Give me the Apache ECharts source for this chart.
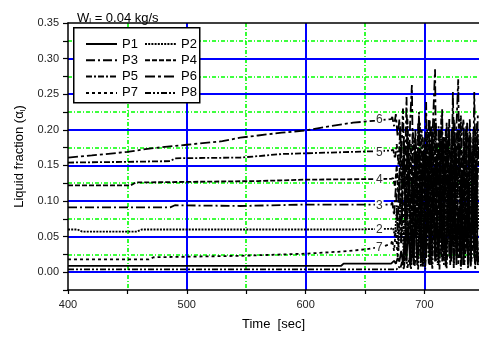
<!DOCTYPE html>
<html>
<head>
<meta charset="utf-8">
<script src="https://cdn.jsdelivr.net/npm/echarts@6.0.0/dist/echarts.min.js"></script>
<style>
html,body{margin:0;padding:0;background:#fff;}
#chart{width:479px;height:343px;}
</style>
</head>
<body>
<div id="chart"></div>
<script>
// ---- Data ----
const seriesNames = ['P1','P2','P3','P4','P5','P6','P7','P8'];

// steady part (time, value)
const p1T = [400, 630, 632, 672];
const p1V = [0.009, 0.009, 0.012, 0.012];
const p2T = [400, 408, 412, 458, 462, 640, 672];
const p2V = [0.060, 0.060, 0.057, 0.057, 0.060, 0.060, 0.061];
const p3T = [400, 486, 490, 545, 600, 672];
const p3V = [0.091, 0.091, 0.094, 0.093, 0.095, 0.095];
const p4T = [400, 453, 457, 560, 600, 672];
const p4V = [0.122, 0.122, 0.126, 0.128, 0.130, 0.131];
const p5T = [400, 450, 486, 490, 545, 560, 580, 600, 620, 640, 660, 672];
const p5V = [0.154, 0.155, 0.156, 0.160, 0.161, 0.163, 0.166, 0.167, 0.168, 0.169, 0.170, 0.171];
const p6T = [400, 420, 450, 470, 500, 530, 545, 560, 580, 600, 620, 640, 660, 672];
const p6V = [0.161, 0.164, 0.169, 0.174, 0.179, 0.184, 0.189, 0.192, 0.196, 0.199, 0.205, 0.210, 0.213, 0.215];
const p7T = [400, 468, 472, 545, 600, 630, 650, 665, 672];
const p7V = [0.018, 0.018, 0.021, 0.023, 0.026, 0.029, 0.032, 0.036, 0.040];
const p8T = [400, 672];
const p8V = [0.004, 0.004];

// oscillating part: two interleaved time grids
const chaosTa = [
 673, 674.5, 676, 677.5, 679, 680.5, 682, 683.5, 685, 686.5,
 688, 689.5, 691, 692.5, 694, 695.5, 697, 698.5, 700, 701.5,
 703, 704.5, 706, 707.5, 709, 710.5, 712, 713.5, 715, 716.5,
 718, 719.5, 721, 722.5, 724, 725.5, 727, 728.5, 730, 731.5,
 733, 734.5, 736, 737.5, 739, 740.5, 742, 743.5, 745];
const chaosTb = [
 673.75, 675.25, 676.75, 678.25, 679.75, 681.25, 682.75, 684.25, 685.75, 687.25,
 688.75, 690.25, 691.75, 693.25, 694.75, 696.25, 697.75, 699.25, 700.75, 702.25,
 703.75, 705.25, 706.75, 708.25, 709.75, 711.25, 712.75, 714.25, 715.75, 717.25,
 718.75, 720.25, 721.75, 723.25, 724.75, 726.25, 727.75, 729.25, 730.75, 732.25,
 733.75, 735.25, 736.75, 738.25, 739.75, 741.25, 742.75, 744.25, 745.75];
const p1C = [
 0.014, 0.016, 0.012, 0.020, 0.015, 0.030, 0.012, 0.050, 0.015, 0.070,
 0.010, 0.060, 0.020, 0.090, 0.010, 0.050, 0.110, 0.008, 0.080, 0.020,
 0.120, 0.010, 0.060, 0.140, 0.015, 0.090, 0.010, 0.130, 0.030, 0.100,
 0.008, 0.070, 0.150, 0.015, 0.060, 0.120, 0.010, 0.090, 0.020, 0.140,
 0.010, 0.080, 0.030, 0.120, 0.008, 0.100, 0.020, 0.150, 0.010];
const p2C = [
 0.062, 0.050, 0.090, 0.030, 0.110, 0.070, 0.020, 0.130, 0.060, 0.150,
 0.010, 0.120, 0.080, 0.170, 0.020, 0.100, 0.150, 0.008, 0.180, 0.060,
 0.130, 0.020, 0.190, 0.050, 0.160, 0.010, 0.140, 0.090, 0.185, 0.020,
 0.120, 0.170, 0.040, 0.200, 0.010, 0.150, 0.070, 0.180, 0.020, 0.130,
 0.060, 0.190, 0.010, 0.160, 0.080, 0.200, 0.030, 0.140, 0.060];
const p3C = [
 0.098, 0.080, 0.120, 0.060, 0.140, 0.040, 0.160, 0.090, 0.030, 0.180,
 0.060, 0.150, 0.010, 0.170, 0.100, 0.200, 0.020, 0.140, 0.190, 0.050,
 0.160, 0.010, 0.205, 0.120, 0.030, 0.180, 0.080, 0.200, 0.015, 0.150,
 0.110, 0.190, 0.020, 0.170, 0.060, 0.210, 0.030, 0.140, 0.180, 0.010,
 0.200, 0.100, 0.040, 0.190, 0.020, 0.160, 0.120, 0.015, 0.200];
const p4C = [
 0.132, 0.120, 0.150, 0.100, 0.170, 0.080, 0.185, 0.040, 0.200, 0.110,
 0.180, 0.020, 0.190, 0.130, 0.060, 0.210, 0.090, 0.170, 0.015, 0.200,
 0.120, 0.180, 0.030, 0.215, 0.080, 0.160, 0.200, 0.020, 0.190, 0.100,
 0.210, 0.060, 0.140, 0.200, 0.015, 0.180, 0.120, 0.215, 0.050, 0.170,
 0.100, 0.205, 0.020, 0.190, 0.150, 0.060, 0.200, 0.090, 0.180];
const p5C = [
 0.172, 0.160, 0.180, 0.150, 0.205, 0.120, 0.190, 0.070, 0.215, 0.140,
 0.050, 0.200, 0.160, 0.030, 0.210, 0.090, 0.200, 0.020, 0.180, 0.120,
 0.215, 0.040, 0.195, 0.100, 0.210, 0.150, 0.060, 0.220, 0.110, 0.190,
 0.030, 0.205, 0.170, 0.050, 0.215, 0.090, 0.200, 0.140, 0.220, 0.030,
 0.180, 0.200, 0.070, 0.215, 0.120, 0.190, 0.040, 0.210, 0.160];
const p6C = [
 0.218, 0.205, 0.222, 0.190, 0.215, 0.160, 0.230, 0.120, 0.246, 0.090,
 0.210, 0.263, 0.070, 0.200, 0.130, 0.225, 0.040, 0.190, 0.110, 0.239,
 0.060, 0.215, 0.150, 0.220, 0.285, 0.050, 0.205, 0.100, 0.229, 0.030,
 0.200, 0.140, 0.215, 0.070, 0.253, 0.120, 0.205, 0.271, 0.040, 0.195,
 0.215, 0.080, 0.210, 0.150, 0.190, 0.060, 0.253, 0.110, 0.220];
const p7C = [
 0.045, 0.030, 0.060, 0.020, 0.080, 0.040, 0.100, 0.015, 0.070, 0.120,
 0.030, 0.090, 0.010, 0.140, 0.050, 0.110, 0.008, 0.150, 0.030, 0.120,
 0.060, 0.170, 0.010, 0.100, 0.140, 0.020, 0.160, 0.050, 0.110, 0.010,
 0.180, 0.070, 0.130, 0.020, 0.150, 0.040, 0.170, 0.010, 0.120, 0.060,
 0.160, 0.020, 0.140, 0.090, 0.010, 0.170, 0.050, 0.130, 0.020];
const p8C = [
 0.004, 0.005, 0.004, 0.008, 0.005, 0.015, 0.004, 0.030, 0.006, 0.020,
 0.004, 0.045, 0.008, 0.030, 0.004, 0.060, 0.010, 0.040, 0.004, 0.070,
 0.012, 0.030, 0.005, 0.080, 0.015, 0.050, 0.004, 0.090, 0.020, 0.040,
 0.005, 0.070, 0.010, 0.100, 0.006, 0.050, 0.020, 0.080, 0.004, 0.060,
 0.010, 0.090, 0.005, 0.040, 0.015, 0.070, 0.004, 0.050, 0.010];

// curve labels (text, time, value)
const curveLabelText = ['6', '5', '4', '3', '2', '7'];
const curveLabelTime = [662, 662, 662, 662, 662, 662];
const curveLabelValue = [0.214, 0.168, 0.130, 0.093, 0.060, 0.035];
const curveLabelSeries = ['P6', 'P5', 'P4', 'P3', 'P2', 'P7'];

// axis ticks
const xTickLabels = [400, 500, 600, 700];
const yTickLabels = ['0.00', '0.05', '0.10', '0.15', '0.20', '0.25', '0.30', '0.35'];

// ---- build ----
function pairs(t, v, ct, cv) {
  const out = [];
  for (let i = 0; i < t.length; i++) out.push([t[i], v[i]]);
  for (let i = 0; i < ct.length; i++) out.push([ct[i], cv[i]]);
  return out;
}
const seriesData = {
  P1: pairs(p1T, p1V, chaosTa, p1C),
  P2: pairs(p2T, p2V, chaosTb, p2C),
  P3: pairs(p3T, p3V, chaosTa, p3C),
  P4: pairs(p4T, p4V, chaosTb, p4C),
  P5: pairs(p5T, p5V, chaosTb, p5C),
  P6: pairs(p6T, p6V, chaosTa, p6C),
  P7: pairs(p7T, p7V, chaosTa, p7C),
  P8: pairs(p8T, p8V, chaosTb, p8C)
};
const dashTypes = {
  P1: 'solid',
  P2: [2, 1.2],
  P3: [9, 3, 2, 3],
  P4: [5, 2],
  P5: [6, 2, 2, 2],
  P6: [10, 3, 3, 3],
  P7: [3, 3],
  P8: [6, 2, 2, 2, 2, 2]
};

const FONT = 'Liberation Sans, Arial, sans-serif';
const GREEN = '#00ff00';
const BLUE = '#0000ff';
const TRANS = 'rgba(0,0,0,0)';

const series = seriesNames.map(function (name) {
  const s = {
    name: name,
    type: 'line',
    xAxisIndex: 0,
    yAxisIndex: 0,
    data: seriesData[name],
    symbol: 'none',
    showSymbol: false,
    animation: false,
    color: '#000',
    lineStyle: { color: '#000', width: 1.8, type: dashTypes[name] },
    z: 3
  };
  const mp = [];
  curveLabelSeries.forEach(function (sn, i) {
    if (sn === name) {
      mp.push({
        coord: [curveLabelTime[i], curveLabelValue[i]],
        value: curveLabelText[i]
      });
    }
  });
  if (mp.length) {
    s.markPoint = {
      symbol: 'circle',
      symbolSize: 1,
      itemStyle: { color: TRANS },
      animation: false,
      label: {
        show: true, position: 'inside', color: '#333', fontSize: 12,
        fontFamily: FONT, backgroundColor: '#fff', padding: [0, 1],
        formatter: function (p) { return p.value; }
      },
      data: mp
    };
  }
  return s;
});

const yMin = -0.025, yMax = 0.35, yStep = 0.025;
const xMin = 400, xMax = 746, xStep = 50;

function yLabelFmt(v) {
  const s = v.toFixed(2);
  return yTickLabels.indexOf(s) >= 0 && Math.abs(Math.round(v * 1000) % 50) === 0 ? s : '';
}
function xLabelFmt(v) {
  return xTickLabels.indexOf(Math.round(v)) >= 0 && Math.abs(v - Math.round(v)) < 1e-6 ? String(Math.round(v)) : '';
}

const legendCommon = {
  orient: 'vertical', top: 32,
  itemWidth: 31, itemHeight: 4, itemGap: 2.3, z: 20,
  itemStyle: { opacity: 0 },
  textStyle: { fontFamily: FONT, fontSize: 13, color: '#000', lineHeight: 14 }
};

const chart = echarts.init(document.getElementById('chart'), null, { renderer: 'canvas' });
chart.setOption({
  animation: false,
  backgroundColor: '#fff',
  title: {
    text: 'W{s|l} = 0.04 kg/s',
    left: 72, top: 6,
    textStyle: {
      fontFamily: FONT, fontSize: 13, fontWeight: 'normal', color: '#000',
      rich: { s: { fontSize: 8, verticalAlign: 'bottom', padding: [6, 0, 0, 0], fontFamily: FONT, color: '#000' } }
    }
  },
  grid: { left: 68, right: 0, top: 23, bottom: 53, containLabel: false },
  xAxis: [
    {
      type: 'value', position: 'bottom', min: xMin, max: xMax, interval: xStep,
      name: 'Time  [sec]', nameLocation: 'middle', nameGap: 28,
      nameTextStyle: { fontFamily: FONT, fontSize: 13, color: '#000' },
      axisLine: { show: true, onZero: false, lineStyle: { color: '#000', width: 1.5 } },
      axisTick: { show: true, length: 4, lineStyle: { color: '#000', width: 1.2 } },
      axisLabel: { fontFamily: FONT, fontSize: 11, color: '#222', margin: 9, formatter: xLabelFmt, showMaxLabel: false },
      splitLine: { show: true, showMinLine: false, showMaxLine: false, lineStyle: { color: [TRANS, BLUE], width: 2, type: 'solid' } },
      z: 2
    },
    {
      type: 'value', position: 'bottom', min: xMin, max: xMax, interval: xStep,
      axisLine: { show: false }, axisTick: { show: false }, axisLabel: { show: false },
      splitLine: { show: true, showMinLine: false, showMaxLine: false, lineStyle: { color: [GREEN, TRANS], width: 1.6, type: [4, 2, 1, 2] } },
      z: 1
    },
    {
      type: 'value', position: 'top', min: xMin, max: xMax, interval: xStep,
      axisLine: { show: true, onZero: false, lineStyle: { color: '#000', width: 1.5 } },
      axisTick: { show: false }, axisLabel: { show: false }, splitLine: { show: false },
      z: 2
    }
  ],
  yAxis: [
    {
      type: 'value', position: 'left', min: yMin, max: yMax, interval: yStep,
      name: 'Liquid fraction (α{s|l})', nameLocation: 'middle', nameGap: 40, nameRotate: 90,
      nameTextStyle: {
        fontFamily: FONT, fontSize: 13, color: '#000',
        rich: { s: { fontSize: 8, fontFamily: FONT, color: '#000', verticalAlign: 'bottom', padding: [6, 0, 0, 0] } }
      },
      axisLine: { show: true, onZero: false, lineStyle: { color: '#000', width: 1.5 } },
      axisTick: { show: true, length: 5, lineStyle: { color: '#000', width: 1.2 } },
      axisLabel: { fontFamily: FONT, fontSize: 11, color: '#222', margin: 9, formatter: yLabelFmt },
      splitLine: { show: true, showMinLine: false, showMaxLine: false, lineStyle: { color: [BLUE, TRANS], width: 2, type: 'solid' } },
      z: 2
    },
    {
      type: 'value', position: 'right', min: yMin, max: yMax, interval: yStep,
      axisLine: { show: false }, axisTick: { show: false }, axisLabel: { show: false },
      splitLine: { show: true, showMinLine: false, showMaxLine: false, lineStyle: { color: [TRANS, GREEN], width: 1.6, type: [4, 2, 1, 2] } },
      z: 1
    }
  ],
  legend: [
    Object.assign({ data: ['P1', 'P3', 'P5', 'P7'], left: 80 }, legendCommon),
    Object.assign({ data: ['P2', 'P4', 'P6', 'P8'], left: 139 }, legendCommon)
  ],
  graphic: [
    {
      type: 'rect', left: 73, top: 27, z: 10,
      shape: { width: 126, height: 75 },
      style: { fill: '#fff', stroke: '#000', lineWidth: 1.5 }
    }
  ],
  series: series
});
</script>
</body>
</html>
